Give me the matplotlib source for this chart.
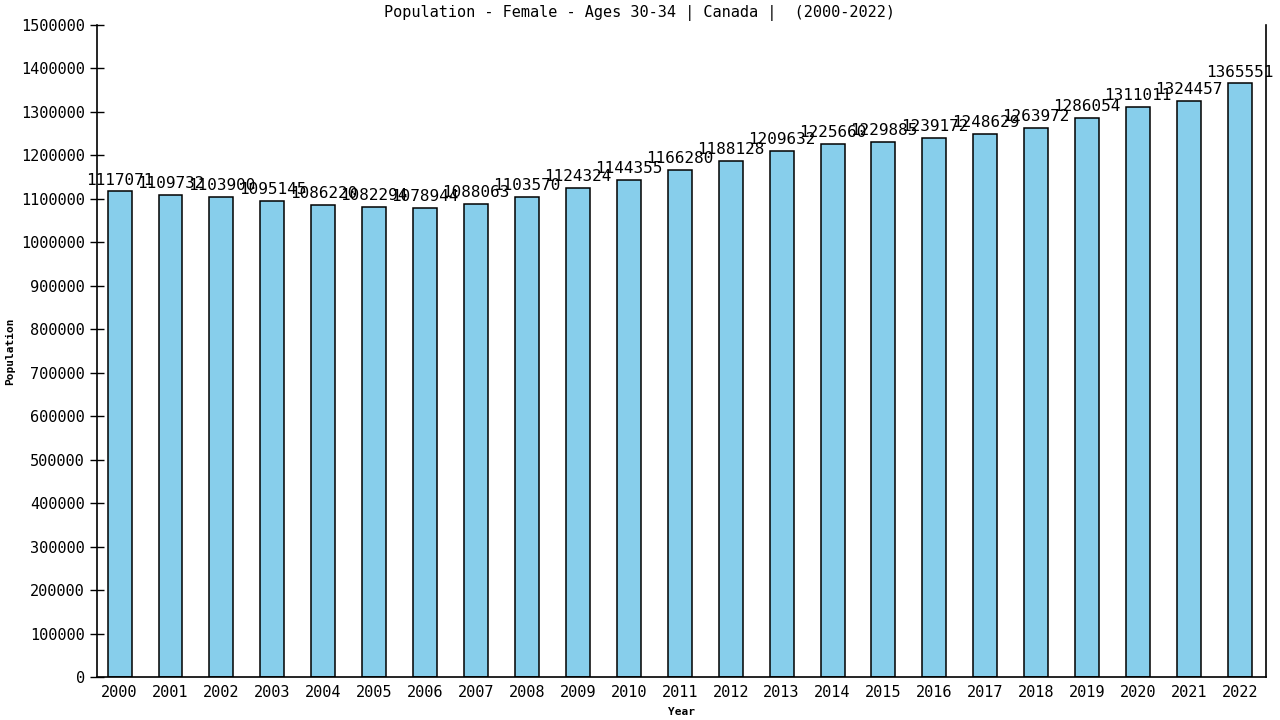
import matplotlib
matplotlib.use("Agg")
import matplotlib.pyplot as plt

years = [str(y) for y in range(2000, 2023)]
population = [
    1117071, 1109732, 1103900, 1095145, 1086220, 1082294, 1078944, 1088063,
    1103570, 1124324, 1144355, 1166280, 1188128, 1209632, 1225660, 1229885,
    1239172, 1248629, 1263972, 1286054, 1311011, 1324457, 1365551,
]
y_ticks = list(range(0, 1500001, 100000))

plt.rcParams["font.family"] = ["DejaVu Sans Mono"]

fig = plt.figure(figsize=(12.8, 7.2), dpi=100)
ax = fig.add_axes([0.0755, 0.0597, 0.9135, 0.9056])

x = list(range(len(years)))
ax.bar(x, population, width=0.47, color="#87CEEB", edgecolor="black", linewidth=1.1)

for xi, v in zip(x, population):
    ax.text(xi, v + 9000, str(v), ha="center", va="bottom", fontsize=11.5)

ax.set_xlim(-0.45, 22.51)
ax.set_ylim(0, 1500000)
ax.set_xticks(x)
ax.set_xticklabels(years, fontsize=11)
ax.set_yticks(y_ticks)
ax.set_yticklabels([str(t) for t in y_ticks], fontsize=11)
ax.tick_params(axis="y", direction="inout", length=10, width=1)
ax.tick_params(axis="x", length=0, pad=6)

ax.spines["top"].set_visible(False)
for s in ["left", "bottom", "right"]:
    ax.spines[s].set_linewidth(1.2)

fig.text(0.5, 0.982, "Population - Female - Ages 30-34 | Canada |  (2000-2022)",
         ha="center", va="center", fontsize=11)
ax.set_xlabel("Year", fontsize=8, fontweight="bold", labelpad=5)
ax.set_ylabel("Population", fontsize=8, fontweight="bold", labelpad=4)

fig.savefig("out.png", dpi=100)
